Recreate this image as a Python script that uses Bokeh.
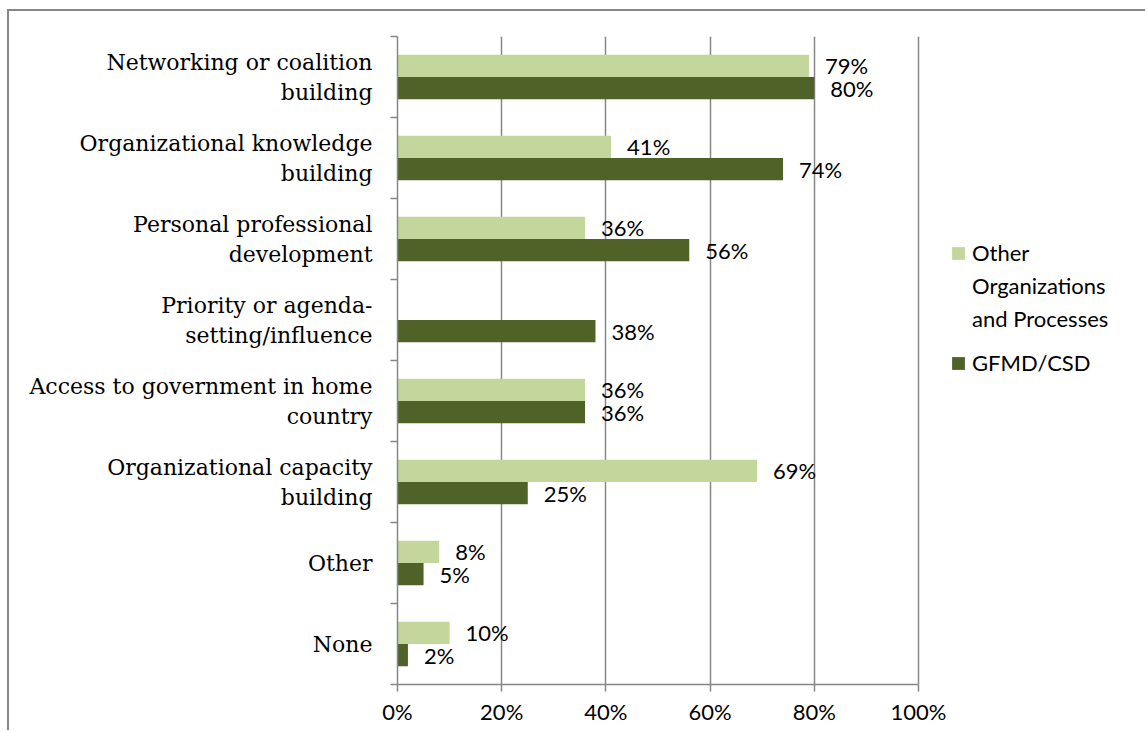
from bokeh.plotting import figure
from bokeh.models import (Range1d, LinearAxis, FixedTicker, ColumnDataSource, Legend,
                          LegendItem, PrintfTickFormatter)
from bokeh.core.properties import value
from bokeh.embed import file_html
from bokeh.resources import INLINE

# ---------------- data ----------------
categories = [
    "Networking or coalition\nbuilding",
    "Organizational knowledge\nbuilding",
    "Personal professional\ndevelopment",
    "Priority or agenda-\nsetting/influence",
    "Access to government in home\ncountry",
    "Organizational capacity\nbuilding",
    "Other",
    "None",
]
other_orgs = [79, 41, 36, None, 36, 69, 8, 10]
gfmd_csd = [80, 74, 56, 38, 36, 25, 5, 2]
series_names = ["Other Organizations and Processes", "GFMD/CSD"]
legend_lines = ["Other", "Organizations", "and Processes"]
x_ticks = [0, 20, 40, 60, 80, 100]

LIGHT = "#C3D69B"
DARK = "#4F6228"
GREY = "#868686"
SANS = "Lato"
SERIF = "DejaVu Serif"

n = len(categories)
ypos = [n - i - 0.5 for i in range(n)]   # category centres, first at top
BH = 0.275

# layout: the axis part (0-100%) is 521px wide; the frame continues to the
# right to hold the legend
AXIS_W = 521
FRAME_W = 738
FRAME_H = 648

p = figure(frame_width=FRAME_W, frame_height=FRAME_H,
           y_range=Range1d(0, n), x_range=Range1d(0, 100 * FRAME_W / AXIS_W),
           y_axis_location=None,
           output_backend="svg", toolbar_location=None,
           min_border_left=388, min_border_right=10,
           min_border_top=25, min_border_bottom=46)
p.outline_line_color = None
p.styles = {"border-left": f"2px solid {GREY}", "border-top": f"2px solid {GREY}",
            "margin-left": "7px", "margin-top": "9px"}

# grid
p.xgrid.ticker = FixedTicker(ticks=x_ticks)
p.xgrid.grid_line_color = GREY
p.xgrid.grid_line_width = 1.5
p.ygrid.visible = False

# x axis
xa = p.xaxis[0]
xa.bounds = (x_ticks[0], x_ticks[-1])
xa.ticker = FixedTicker(ticks=x_ticks)
xa.formatter = PrintfTickFormatter(format="%d%%")
xa.axis_line_color = GREY
xa.axis_line_width = 1.5
xa.major_tick_line_color = GREY
xa.major_tick_line_width = 1.5
xa.major_tick_out = 7
xa.major_tick_in = 0
xa.minor_tick_line_color = None
xa.major_label_text_font = SANS
xa.major_label_text_font_size = "22px"
xa.major_label_text_color = "black"
xa.major_label_standoff = 6

# boundary ticks axis (ticks between categories)
bounds_ticks = list(range(n + 1))
tick_axis = LinearAxis(ticker=FixedTicker(ticks=bounds_ticks),
                       major_label_overrides={t: "" for t in bounds_ticks},
                       major_label_standoff=0,
                       major_tick_out=7, major_tick_in=0,
                       minor_tick_line_color=None,
                       axis_line_color=GREY, axis_line_width=1.5,
                       major_tick_line_color=GREY, major_tick_line_width=1.5)
p.add_layout(tick_axis, "left")

# category label axis
cat_axis = LinearAxis(ticker=FixedTicker(ticks=ypos),
                      major_label_overrides={y: c for y, c in zip(ypos, categories)},
                      major_tick_line_color=None, axis_line_color=None,
                      minor_tick_line_color=None,
                      major_label_text_font=SERIF,
                      major_label_text_font_size="22px",
                      major_label_text_color="black",
                      major_label_text_line_height=1.2,
                      major_label_standoff=12)
p.add_layout(cat_axis, "left")

# bars
src = ColumnDataSource(dict(
    y_other=[y + BH / 2 for y in ypos],
    y_gfmd=[y - BH / 2 for y in ypos],
    other=[float("nan") if v is None else v for v in other_orgs],
    gfmd=gfmd_csd,
))
r_light = p.hbar(y="y_other", left=0, right="other", height=BH, source=src,
                 fill_color=LIGHT, line_color=None)
r_dark = p.hbar(y="y_gfmd", left=0, right="gfmd", height=BH, source=src,
                fill_color=DARK, line_color=None)

# data labels
lo = [(y + BH / 2, v) for y, v in zip(ypos, other_orgs) if v is not None]
src_lo = ColumnDataSource(dict(y=[a for a, _ in lo], val=[v for _, v in lo],
                               lbl=[f"{v}%" for _, v in lo]))
src_ld = ColumnDataSource(dict(y=[y - BH / 2 for y in ypos], val=gfmd_csd,
                               lbl=[f"{v}%" for v in gfmd_csd]))
for s in (src_lo, src_ld):
    p.text(x="val", y="y", text="lbl", source=s,
           x_offset=16, text_align="left", text_baseline="middle",
           text_font=value(SANS), text_font_size="22px", text_color="black")

# legend
blank = p.hbar(y=[], right=[], height=BH, fill_alpha=0, line_alpha=0)
common = dict(glyph_width=16, glyph_height=16, label_standoff=6, spacing=0,
              label_height=33, padding=0, margin=0, border_line_color=None,
              background_fill_alpha=0, label_text_font=SANS,
              label_text_font_size="22px", label_text_color="black")
leg1 = Legend(items=[LegendItem(label=legend_lines[0], renderers=[r_light]),
                     LegendItem(label=legend_lines[1], renderers=[blank]),
                     LegendItem(label=legend_lines[2], renderers=[blank])],
              location=(553, 349), **common)
leg2 = Legend(items=[LegendItem(label=series_names[1], renderers=[r_dark])],
              location=(553, 305), **common)
p.add_layout(leg1, "center")
p.add_layout(leg2, "center")

open("out.html", "w").write(file_html(p, INLINE))
